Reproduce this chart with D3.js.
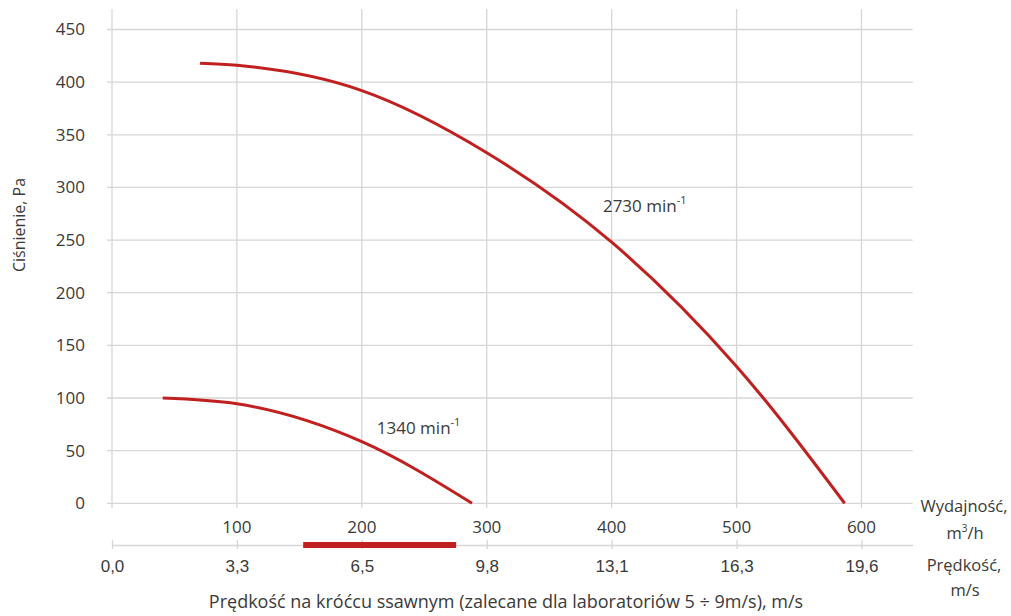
<!DOCTYPE html>
<html>
<head>
<meta charset="utf-8">
<script src="https://cdn.jsdelivr.net/npm/d3@7"></script>
<style>
  body { margin: 0; background: #fff; }
  svg { display: block; font-family: "Open Sans", "Noto Sans", sans-serif; }
</style>
</head>
<body>
<svg id="chart" width="1011" height="616"></svg>
<script>
// flow Q [m3/h] vs pressure P [Pa]
const curve2730 = [
  [70.5, 418], [100, 416], [200, 392], [300, 333], [400, 248], [500, 130], [586.5, 0]
];
const curve1340 = [
  [40.6, 100], [100, 94.5], [200, 58.5], [288.2, 0]
];
const curves = [
  { name: '2730', points: curve2730, label: [393, 277] },
  { name: '1340', points: curve1340, label: [212, 66] }
];
const flowTicks = [100, 200, 300, 400, 500, 600];
const pressureTicks = [0, 50, 100, 150, 200, 250, 300, 350, 400, 450];
const speedPerFlow = 19.6 / 600;          // m/s per m3/h
const recommended = [5, 9];               // m/s, zalecane dla laboratoriów

const svg = d3.select('#chart');
const textColor = '#3a3a3a';
const gridColor = '#d6d6d6';
const red = '#c0201f';

const x = d3.scaleLinear().domain([0, 641]).range([112, 912.7]);
const y = d3.scaleLinear().domain([0, 450]).range([503.3, 29.5]);
const speed = d3.scaleLinear().domain([0, 641 * speedPerFlow]).range([112, 912.7]);

// vertical grid
svg.append('g')
  .selectAll('line')
  .data([0].concat(flowTicks))
  .join('line')
  .attr('x1', d => x(d)).attr('x2', d => x(d))
  .attr('y1', 9).attr('y2', 508)
  .attr('stroke', gridColor).attr('stroke-width', 1.3);

// horizontal grid
svg.append('g')
  .selectAll('line')
  .data(pressureTicks)
  .join('line')
  .attr('x1', 107).attr('x2', 912.7)
  .attr('y1', d => y(d)).attr('y2', d => y(d))
  .attr('stroke', gridColor).attr('stroke-width', 1.3);

// y tick labels
svg.append('g')
  .selectAll('text')
  .data(pressureTicks)
  .join('text')
  .attr('x', 85).attr('y', d => y(d))
  .attr('dy', '0.35em')
  .attr('text-anchor', 'end')
  .attr('font-size', 17).attr('fill', textColor)
  .text(d => d);

// flow tick labels
svg.append('g')
  .selectAll('text')
  .data(flowTicks)
  .join('text')
  .attr('x', d => x(d)).attr('y', 533)
  .attr('text-anchor', 'middle')
  .attr('font-size', 17).attr('fill', textColor)
  .text(d => d);

// speed axis
const speedAxis = d3.axisBottom(speed)
  .tickValues([0].concat(flowTicks).map(d => d * speedPerFlow))
  .tickFormat(d => d3.format('.1f')(d).replace('.', ','))
  .tickSize(0)
  .tickPadding(0);

const sa = svg.append('g').attr('transform', 'translate(0,545)').call(speedAxis);
sa.select('.domain').attr('stroke', gridColor).attr('stroke-width', 1.3);
sa.selectAll('.tick text')
  .attr('y', 26.5).attr('dy', 0)
  .attr('font-size', 17).attr('fill', textColor)
  .attr('font-family', null);
sa.selectAll('.tick').append('line')
  .attr('y1', -5).attr('y2', 4)
  .attr('stroke', gridColor).attr('stroke-width', 1.3);

// recommended speed band
svg.append('line')
  .attr('x1', speed(recommended[0])).attr('x2', speed(recommended[1]))
  .attr('y1', 545).attr('y2', 545)
  .attr('stroke', red).attr('stroke-width', 6);

// curves
const line = d3.line()
  .x(d => x(d[0])).y(d => y(d[1]))
  .curve(d3.curveMonotoneX);

svg.append('g')
  .selectAll('path')
  .data(curves)
  .join('path')
  .attr('d', d => line(d.points))
  .attr('fill', 'none')
  .attr('stroke', red).attr('stroke-width', 3);

const labels = svg.append('g')
  .selectAll('text')
  .data(curves)
  .join('text')
  .attr('x', d => x(d.label[0])).attr('y', d => y(d.label[1]))
  .attr('font-size', 17).attr('fill', textColor);
labels.append('tspan').text(d => d.name + ' min');
labels.append('tspan').attr('dy', -8).attr('font-size', 11).text('-1');

// axis titles
svg.append('text')
  .attr('transform', 'translate(25,225) rotate(-90)')
  .attr('text-anchor', 'middle')
  .attr('font-size', 16).attr('fill', textColor)
  .text('Ciśnienie, Pa');

svg.append('text')
  .attr('x', 506).attr('y', 608)
  .attr('text-anchor', 'middle')
  .attr('font-size', 18).attr('fill', textColor)
  .text('Prędkość na króćcu ssawnym (zalecane dla laboratoriów 5 ÷ 9m/s), m/s');

const side = svg.append('g').attr('text-anchor', 'middle')
  .attr('font-size', 16.5).attr('fill', textColor);
side.append('text').attr('x', 964).attr('y', 512).text('Wydajność,');
const unit = side.append('text').attr('x', 965).attr('y', 539);
unit.append('tspan').text('m');
unit.append('tspan').attr('dy', -7).attr('font-size', 10).text('3');
unit.append('tspan').attr('dy', 7).text('/h');
side.append('text').attr('x', 964).attr('y', 571).text('Prędkość,');
side.append('text').attr('x', 965).attr('y', 596).text('m/s');
</script>
</body>
</html>
